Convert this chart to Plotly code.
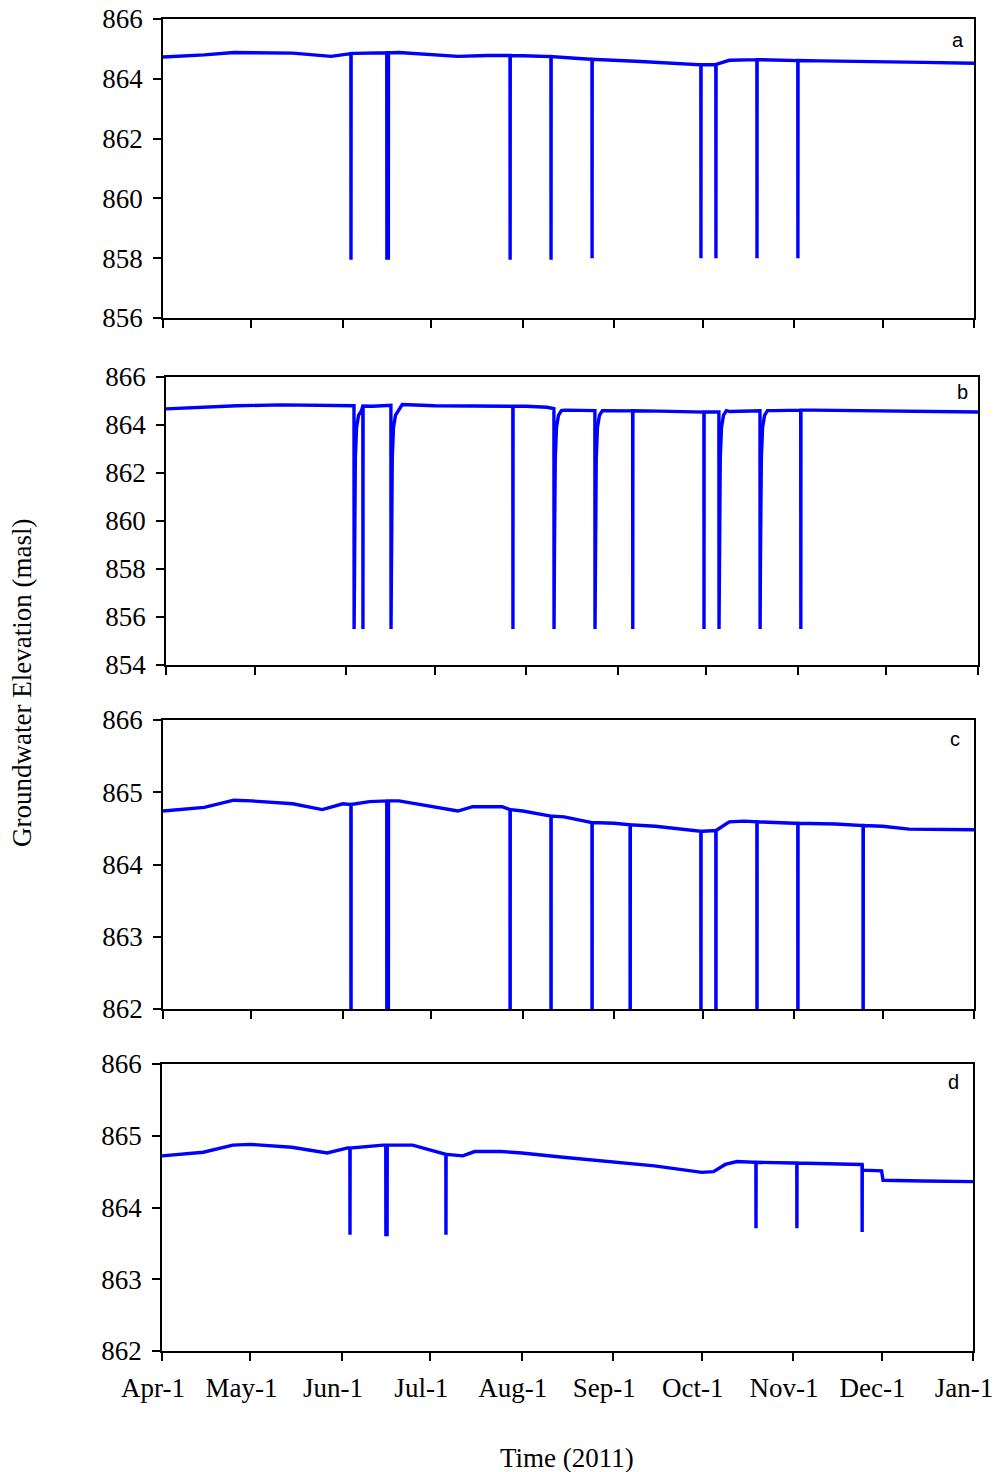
import pandas as pd
import plotly.graph_objects as go

W, H = 997, 1472

# ---------------- data ----------------
tick_dates = ["2011-04-01", "2011-05-01", "2011-06-01", "2011-07-01", "2011-08-01",
              "2011-09-01", "2011-10-01", "2011-11-01", "2011-12-01", "2012-01-01"]
tick_labels = ["Apr-1", "May-1", "Jun-1", "Jul-1", "Aug-1", "Sep-1", "Oct-1", "Nov-1", "Dec-1", "Jan-1"]

# Panel a
a_base_dates = ["2011-04-01", "2011-04-15", "2011-04-25", "2011-05-15", "2011-05-28", "2011-06-05",
                "2011-06-20", "2011-07-01", "2011-07-10", "2011-07-20", "2011-08-01", "2011-08-20",
                "2011-09-10", "2011-10-01", "2011-10-05", "2011-10-10", "2011-10-20", "2011-11-10",
                "2011-12-01", "2011-12-15", "2012-01-01"]
a_base_vals = [864.73, 864.80, 864.88, 864.86, 864.75, 864.85, 864.88, 864.82, 864.75, 864.78,
               864.77, 864.68, 864.58, 864.47, 864.47, 864.62, 864.64, 864.60, 864.58, 864.55, 864.52]
a_spike_dates = ["2011-06-03 18:00", "2011-06-15 22:00", "2011-06-16 10:00", "2011-07-27 17:00",
                 "2011-08-10 14:00", "2011-08-24 12:00", "2011-09-30 10:00", "2011-10-05 12:00",
                 "2011-10-19 10:00", "2011-11-02 07:00"]
a_spike_tops = [864.84, 864.87, 864.87, 864.78, 864.74, 864.65, 864.47, 864.48, 864.64, 864.61]
a_spike_mins = [857.95, 857.95, 857.95, 857.95, 857.95, 858.0, 858.0, 858.0, 858.0, 858.0]

# Panel b
b_base_dates = ["2011-04-01", "2011-04-25", "2011-05-10", "2011-05-31", "2011-06-10", "2011-06-20",
                "2011-07-01", "2011-07-20", "2011-08-01", "2011-08-08", "2011-08-14", "2011-09-01",
                "2011-09-15", "2011-10-01", "2011-10-09", "2011-10-24", "2011-11-06", "2011-12-01",
                "2012-01-01"]
b_base_vals = [864.67, 864.80, 864.84, 864.80, 864.78, 864.85, 864.80, 864.78, 864.78, 864.74,
               864.62, 864.60, 864.58, 864.54, 864.56, 864.60, 864.62, 864.60, 864.54]
b_spike_dates = ["2011-06-03 17:00", "2011-06-06 17:00", "2011-06-16 05:00", "2011-07-27 12:00",
                 "2011-08-10 10:00", "2011-08-24 07:00", "2011-09-06 02:00", "2011-09-30 05:00",
                 "2011-10-05 07:00", "2011-10-19 05:00", "2011-11-02 00:00"]
b_spike_tops = [864.80, 864.79, 864.82, 864.78, 864.68, 864.60, 864.59, 864.54, 864.54, 864.59, 864.62]
b_spike_mins = [855.5, 855.5, 855.5, 855.5, 855.5, 855.5, 855.5, 855.5, 855.5, 855.5, 855.5]
b_spike_recovers = [True, False, True, False, True, True, False, False, True, True, False]
b_recovery_hours = [3, 10, 20, 36, 60]
b_recovery_levels = [858.5, 862.6, 863.9, 864.4, 864.6]

# Panel c
c_base_dates = ["2011-04-01", "2011-04-15", "2011-04-25", "2011-05-01", "2011-05-15", "2011-05-25",
                "2011-06-01", "2011-06-10", "2011-06-20", "2011-07-01", "2011-07-10", "2011-07-15",
                "2011-07-25", "2011-08-01", "2011-08-15", "2011-09-01", "2011-09-15", "2011-10-01",
                "2011-10-04", "2011-10-10", "2011-10-15", "2011-11-01", "2011-11-15", "2011-12-01",
                "2011-12-10", "2012-01-01"]
c_base_vals = [864.74, 864.79, 864.89, 864.88, 864.84, 864.76, 864.84, 864.87, 864.88, 864.80,
               864.74, 864.80, 864.80, 864.74, 864.66, 864.57, 864.53, 864.46, 864.46, 864.59,
               864.60, 864.57, 864.56, 864.53, 864.49, 864.48]
c_spike_dates = ["2011-06-03 18:00", "2011-06-15 22:00", "2011-06-16 10:00", "2011-07-27 17:00",
                 "2011-08-10 14:00", "2011-08-24 12:00", "2011-09-06 10:00", "2011-09-30 10:00",
                 "2011-10-05 12:00", "2011-10-19 10:00", "2011-11-02 07:00", "2011-11-24 10:00"]
c_spike_tops = [864.83, 864.88, 864.88, 864.76, 864.67, 864.58, 864.55, 864.46, 864.47, 864.59,
                864.57, 864.54]
c_spike_mins = [858.0] * 12

# Panel d
d_base_dates = ["2011-04-01", "2011-04-15", "2011-04-25", "2011-05-01", "2011-05-15", "2011-05-27",
                "2011-06-03", "2011-06-15", "2011-06-25", "2011-07-01", "2011-07-05", "2011-07-12",
                "2011-07-16", "2011-07-25", "2011-08-01", "2011-08-15", "2011-09-01", "2011-09-15",
                "2011-10-01", "2011-10-05", "2011-10-09", "2011-10-13", "2011-11-01", "2011-11-24",
                "2011-11-24 12:00", "2011-12-01", "2011-12-01 12:00", "2011-12-15", "2012-01-01"]
d_base_vals = [864.72, 864.77, 864.87, 864.88, 864.84, 864.76, 864.83, 864.87, 864.87, 864.80,
               864.75, 864.72, 864.78, 864.78, 864.76, 864.70, 864.63, 864.58, 864.49, 864.50,
               864.60, 864.64, 864.62, 864.60, 864.52, 864.51, 864.38, 864.37, 864.36]
d_spike_dates = ["2011-06-03 18:00", "2011-06-15 22:00", "2011-06-16 08:00", "2011-07-06 07:00",
                 "2011-10-19 10:00", "2011-11-02 07:00", "2011-11-24 10:00"]
d_spike_tops = [864.83, 864.87, 864.87, 864.74, 864.63, 864.62, 864.60]
d_spike_mins = [863.62, 863.60, 863.60, 863.62, 863.71, 863.71, 863.66]


def build(base_dates, base_vals, spk_dates, spk_tops, spk_mins, recovers=None,
          rec_hours=None, rec_levels=None):
    pts = list(zip(pd.to_datetime(base_dates, format="ISO8601"), base_vals))
    hr = pd.Timedelta(hours=1)
    for i, (d, top, mn) in enumerate(zip(spk_dates, spk_tops, spk_mins)):
        t = pd.Timestamp(d)
        pts += [(t - hr, top), (t, mn)]
        if recovers is not None and recovers[i]:
            pts += [(t + pd.Timedelta(hours=h), v) for h, v in zip(rec_hours, rec_levels)]
        else:
            pts += [(t + hr, top)]
    pts.sort(key=lambda p: p[0])
    return [p[0] for p in pts], [p[1] for p in pts]


series = [
    build(a_base_dates, a_base_vals, a_spike_dates, a_spike_tops, a_spike_mins),
    build(b_base_dates, b_base_vals, b_spike_dates, b_spike_tops, b_spike_mins,
          b_spike_recovers, b_recovery_hours, b_recovery_levels),
    build(c_base_dates, c_base_vals, c_spike_dates, c_spike_tops, c_spike_mins),
    build(d_base_dates, d_base_vals, d_spike_dates, d_spike_tops, d_spike_mins),
]
panel_letters = ["a", "b", "c", "d"]
y_ranges = [(856, 866, 2), (854, 866, 2), (862, 866, 1), (862, 866, 1)]

# ---------------- layout (pixel geometry) ----------------
x_px = [(163, 974), (166, 978), (163, 974), (162, 973)]
y_px = [(19, 318), (377, 665), (720, 1009), (1064, 1351)]
letter_px = [(958, 40), (962, 392), (955, 739), (953, 1082)]

serif = "Liberation Serif, Times New Roman, serif"
FS = 27
fig = go.Figure()
layout = dict(
    width=W, height=H, margin=dict(l=0, r=0, t=0, b=0, autoexpand=False),
    paper_bgcolor="white", plot_bgcolor="white", showlegend=False,
    font=dict(family=serif, size=FS, color="black"),
)
annotations = []
for i, (xs, ys) in enumerate(series):
    n = "" if i == 0 else str(i + 1)
    fig.add_trace(go.Scatter(x=xs, y=ys, mode="lines",
                             line=dict(color="#0000FF", width=3.4),
                             xaxis="x" + n, yaxis="y" + n, hoverinfo="skip"))
    x0, x1 = x_px[i]
    yt, yb = y_px[i]
    lo, hi, step = y_ranges[i]
    layout["xaxis" + n] = dict(
        domain=[x0 / W, x1 / W], anchor="y" + n, automargin=False,
        range=["2011-04-01", "2012-01-01"], type="date",
        tickvals=tick_dates, ticktext=tick_labels, showticklabels=(i == 3),
        ticklabeloverflow="allow", ticklabelshift=-9, ticklabelstandoff=4,
        ticks="outside", ticklen=8, tickwidth=1.5, tickcolor="black",
        showline=True, linecolor="black", linewidth=1.5, mirror=True,
        showgrid=False, zeroline=False,
        tickfont=dict(family=serif, size=FS, color="black"),
    )
    layout["yaxis" + n] = dict(
        domain=[1 - yb / H, 1 - yt / H], anchor="x" + n, automargin=False,
        range=[lo, hi], tickmode="linear", tick0=lo, dtick=step,
        ticklabeloverflow="allow", ticklabelstandoff=5,
        ticks="outside", ticklen=8, tickwidth=1.5, tickcolor="black",
        showline=True, linecolor="black", linewidth=1.5, mirror=True,
        showgrid=False, zeroline=False,
        tickfont=dict(family=serif, size=FS, color="black"),
    )
    lx, ly = letter_px[i]
    annotations.append(dict(text=panel_letters[i], x=lx / W, y=1 - ly / H,
                            xref="paper", yref="paper", showarrow=False,
                            xanchor="center", yanchor="middle",
                            font=dict(family="Liberation Sans, Arial, sans-serif",
                                      size=20, color="black")))

annotations.append(dict(text="Groundwater Elevation (masl)", x=22 / W, y=1 - 683 / H,
                        xref="paper", yref="paper", showarrow=False, textangle=-90,
                        xanchor="center", yanchor="middle",
                        font=dict(family=serif, size=FS, color="black")))
annotations.append(dict(text="Time (2011)", x=567 / W, y=1 - 1458 / H,
                        xref="paper", yref="paper", showarrow=False,
                        xanchor="center", yanchor="middle",
                        font=dict(family=serif, size=FS, color="black")))
layout["annotations"] = annotations
fig.update_layout(**layout)
fig.write_html("out.html")
